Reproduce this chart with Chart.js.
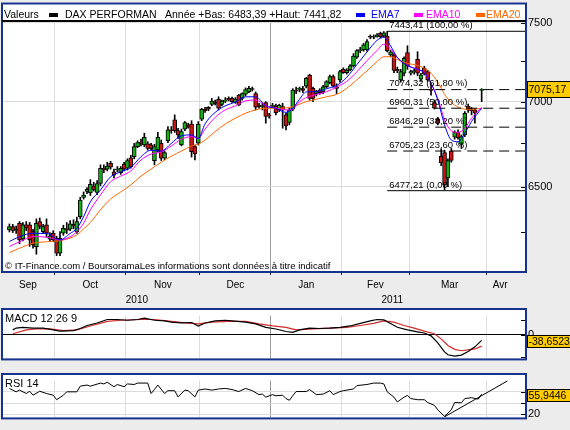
<!DOCTYPE html>
<html>
<head>
<meta charset="utf-8">
<script src="https://cdn.jsdelivr.net/npm/chart.js@4.4.1/dist/chart.umd.min.js"></script>
<style>
  html, body { margin: 0; padding: 0; background: #ececec; width: 570px; height: 430px; overflow: hidden; }
  canvas { position: absolute; left: 0; }
  #main { top: 0; }
  #macd { top: 306px; }
  #rsi { top: 371px; }
</style>
</head>
<body>
<canvas id="main" width="570" height="310"></canvas>
<canvas id="macd" width="570" height="62"></canvas>
<canvas id="rsi" width="570" height="56"></canvas>
<script>
// DAX daily candles, trading day 0 = 13 Sep 2010 ... 140 = 30 Mar 2011 (139 missing)
const opens = [
  6260,6278,6256,6296,6210,6287,6287,6250,6169,6305,
  6250,6287,6209,6241,6214,6133,6241,6265,6264,6290,
  6250,6332,6440,6473,6464,6504,6467,6518,6605,6600,
  6634,6585,6595,6580,6630,6605,6665,6672,6731,6755,
  6741,6747,6741,6649,6711,6751,6663,6766,6830,6890,
  6826,6741,6834,6860,6864,6731,6751,6894,6954,6966,
  6984,7000,7014,6984,7004,7020,7020,6996,7040,7020,
  7046,7062,7080,7050,6980,6970,6994,6915,6972,6974,
  6950,6970,6920,6874,6954,7072,7076,7080,7096,7165,
  7082,7047,7072,7062,7092,7117,7155,7092,7134,7201,
  7180,7197,7222,7277,7319,7323,7323,7409,7405,7412,
  7430,7413,7413,7292,7292,7200,7134,7176,7306,7176,
  7186,7264,7139,7208,7186,7072,6994,6894,6675,6696,
  6550,6706,6787,6817,6745,6800,6973,6950,6950,null,7070
];
const highs = [
  6292,6290,6280,6305,6300,6305,6300,6262,6320,6325,
  6290,6320,6245,6255,6225,6250,6285,6300,6310,6315,
  6330,6440,6470,6495,6540,6525,6535,6625,6625,6640,
  6645,6600,6615,6615,6640,6660,6680,6750,6765,6775,
  6810,6760,6750,6745,6815,6770,6705,6850,6850,6920,
  6840,6835,6880,6870,6885,6740,6880,6960,6965,6970,
  7020,7010,7030,7010,7025,7030,7028,7025,7045,7055,
  7085,7095,7090,7060,6990,6990,7000,6930,6990,6985,
  6985,6990,6930,6960,7080,7090,7090,7095,7150,7170,
  7090,7070,7080,7100,7130,7165,7165,7110,7195,7210,
  7205,7230,7300,7325,7340,7365,7390,7420,7420,7428,
  7438,7442,7443,7320,7300,7215,7200,7280,7350,7195,
  7200,7312,7175,7220,7195,7110,7010,6905,6718,6710,
  6660,6720,6825,6830,6800,6940,6985,6965,6955,null,7080
];
const lows = [
  6248,6245,6240,6185,6200,6255,6170,6160,6128,6265,
  6240,6220,6200,6195,6120,6120,6230,6240,6255,6265,
  6240,6320,6430,6460,6450,6475,6455,6505,6580,6590,
  6600,6550,6585,6570,6590,6595,6605,6660,6725,6735,
  6730,6710,6710,6625,6700,6650,6655,6755,6810,6815,
  6780,6735,6825,6840,6670,6653,6740,6885,6935,6945,
  6975,6980,6950,6975,6995,7005,6995,6990,6975,7010,
  7035,7055,7065,6950,6960,6950,6870,6900,6965,6920,
  6940,6840,6830,6860,6945,7050,7060,7055,7085,7010,
  7000,7035,7045,7050,7085,7110,7090,7050,7120,7175,
  7170,7190,7215,7270,7305,7315,7315,7395,7395,7405,
  7400,7405,7310,7280,7180,7180,7120,7160,7200,7165,
  7170,7160,7125,7165,7125,7040,6955,6860,6620,6483,
  6500,6640,6775,6775,6720,6790,6935,6920,6870,null,7000
];
const closes = [
  6278,6256,6262,6205,6287,6270,6205,6178,6296,6278,
  6278,6241,6227,6205,6133,6214,6268,6258,6292,6280,
  6305,6424,6453,6485,6513,6485,6518,6605,6595,6618,
  6611,6566,6600,6605,6600,6650,6615,6731,6755,6750,
  6786,6721,6721,6731,6786,6663,6696,6830,6825,6826,
  6800,6820,6874,6846,6702,6688,6864,6954,6945,6954,
  7004,6990,6960,7004,7010,7012,7000,7016,6980,7050,
  7075,7082,7075,6966,6970,6975,6910,6914,6976,6934,
  6980,6950,6854,6950,7072,7065,7080,7070,7144,7020,
  7020,7062,7055,7092,7124,7155,7096,7082,7186,7180,
  7195,7222,7285,7319,7325,7356,7377,7405,7410,7420,
  7409,7434,7319,7312,7193,7190,7186,7270,7222,7186,
  7190,7176,7166,7172,7134,7070,6960,6870,6638,6510,
  6650,6650,6817,6782,6790,6930,6950,6945,6930,null,7075.17
];

// moving averages
const emaDays = [0,3,7,11,15,18,20,22,24,27,30,33,36,39,42,45,48,51,54,56,58,61,64,67,70,73,76,79,82,84,86,88,91,94,97,100,103,106,109,111,113,115,118,121,123,125,127,129,131,133,135,137,140];
const ema7 = [6196,6223,6241,6240,6205,6240,6268,6332,6415,6481,6556,6585,6610,6672,6710,6705,6750,6795,6800,6780,6866,6935,6975,6998,7030,7030,6975,6960,6935,6960,7015,7060,7062,7080,7100,7150,7230,7310,7385,7405,7350,7275,7225,7200,7180,7115,7010,6860,6770,6760,6810,6880,6960];
const ema10 = [6169,6195,6223,6220,6205,6222,6250,6296,6370,6453,6528,6560,6590,6653,6688,6700,6735,6775,6790,6780,6835,6905,6950,6975,7005,7010,6975,6962,6950,6955,7000,7025,7045,7061,7090,7125,7185,7255,7320,7360,7330,7275,7225,7200,7180,7110,7020,6890,6825,6815,6840,6900,6966];
const ema20 = [6137,6160,6187,6195,6201,6215,6232,6265,6300,6370,6430,6470,6510,6560,6600,6640,6675,6705,6735,6745,6770,6820,6865,6900,6930,6950,6960,6960,6962,6970,6985,7000,7015,7030,7045,7082,7135,7190,7250,7280,7280,7262,7238,7225,7207,7176,7120,7045,6995,6968,6955,6954,6960];

// Fibonacci retracement from the 18 Feb high
const fibLevels = [7443.41, 7074.32, 6960.31, 6846.29, 6705.23, 6477.21];
const fibPcts = ['100,00', '61,80', '50,00', '38,20', '23,60', '0,00'];
const fibStartDay = 112;
const yearLow = 6483.39;
const yearHigh = 7441.82;
const lastPrice = 7075.17;

// MACD 12 26 9
const macdDays = [1,2,4,7,10,13,15,19,21,23,26,29,32,35,38,40,43,46,48,51,54,56,58,61,64,66,70,73,76,79,82,84,86,89,92,95,98,101,104,107,109,111,113,115,118,121,123,125,127,129,130,132,134,136,138,140];
const macdVals = [31,43,48,43,43,31,23,26,40,60,77,100,100,95,100,109,95,91,83,77,80,57,77,91,95,91,83,71,48,37,20,14,31,43,40,43,48,57,74,91,100,97,74,48,31,18,10,-9,-56,-116,-135,-144,-137,-113,-82,-38.65];
const signalDays = [1,5,8,12,16,20,24,29,33,39,43,48,52,56,60,65,70,74,78,82,85,90,95,100,104,108,111,114,117,120,123,126,128,130,132,134,136,138,140];
const signalVals = [5,31,37,37,26,31,57,88,95,100,100,88,77,71,83,88,88,71,57,48,31,37,43,48,60,74,91,83,60,43,23,5,-29,-73,-99,-108,-102,-96,-77];
const lastMacd = -38.6523;
const macdTicks = [-150, 0, 100];

// RSI 14
const rsiDays = [0,2,3,5,6,7,9,11,13,14,16,17,20,21,23,24,27,28,29,31,32,34,35,37,38,41,42,43,44,46,47,49,50,52,53,55,56,58,60,62,64,66,68,70,72,74,75,76,78,79,81,82,83,84,85,88,89,91,93,95,96,98,99,102,103,106,108,110,111,112,114,115,117,118,119,121,123,124,126,127,129,131,132,134,135,137,139,140];
const rsiVals = [66,60,63,57,61,54,61,57,54,46,54,60,60,70,72,70,75.5,74,77,69,73,69,74,73,75.5,75.5,57,64,72,57,62,62,51,63,62,51,63,65,63,65,66,64,60.5,66,62,55,56,50.5,55,53,54,48,45,53,60.5,60.5,64,55,56,62,55,60.5,62,65,71,73,75.5,75.5,74,60,50.5,42,50.5,53.6,48,46,46,41,36,28,16.5,28,41,40.5,48,49.6,47,55.94];
const rsiTrendDays = [129, 147.7];
const rsiTrendVals = [15.6, 79.5];
const lastRsi = 55.9446;
const rsiTicks = [20, 30, 40, 50, 60, 70];

// axes
const priceTicks = [6250, 6500, 6750, 7000, 7250, 7500];
const priceLabels = [6500, 7000, 7500];
const monthStarts = [13.5, 34.5, 56.5, 77.5, 98.5, 118.5, 141.5];
const monthMids = [5.5, 24, 45.5, 67, 88, 108.5, 130.5, 145.5];
const monthLabels = ['Sep', 'Oct', 'Nov', 'Dec', 'Jan', 'Fev', 'Mar', 'Avr'];
const yearMids = [37.8, 113.5];
const yearLabels = ['2010', '2011'];
const yearStart = 77.5;
const xMin = -1.9, xMax = 152.85;

const FONT = '"Liberation Sans", Arial, sans-serif';
const NAVY = '#17318f';
const GRID = '#dcdcdc';
const CLEAR = 'rgba(0,0,0,0)';
const GREEN = '#12b012';
const RED = '#cc1414';

Chart.defaults.font.family = FONT;
Chart.defaults.font.size = 11;
Chart.defaults.color = '#000';

const fmt = (v, d) => v.toFixed(d).replace('.', ',');
const pts = (xs, ys) => xs.map((x, k) => ({ x: x, y: ys[k] }));
const monthGrid = ctx => {
  const v = ctx.tick ? ctx.tick.value : null;
  if (v === yearStart) return '#9c9c9c';
  return monthStarts.includes(v) ? GRID : CLEAR;
};

// white panel, navy frame, inward tick marks and value box
function panel(cfg) {
  return {
    id: 'panel',
    beforeDraw(chart) {
      const a = chart.chartArea, c = chart.ctx;
      c.save();
      c.fillStyle = '#fff';
      c.fillRect(a.left - 1, cfg.top, a.right - a.left + 2, a.bottom - cfg.top + 1);
      c.restore();
    },
    beforeDatasetsDraw(chart) {
      if (!cfg.title) return;
      const c = chart.ctx;
      c.save();
      c.font = '11px ' + FONT;
      c.fillStyle = '#000';
      c.textBaseline = 'middle';
      c.fillText(cfg.title, chart.chartArea.left + 2, cfg.titleY);
      c.restore();
    },
    afterDraw(chart) {
      const a = chart.chartArea, c = chart.ctx, ys = chart.scales.y;
      c.save();
      c.strokeStyle = '#000';
      c.lineWidth = 1;
      ys.ticks.forEach(t => {
        const py = Math.round(ys.getPixelForValue(t.value)) + 0.5;
        c.beginPath(); c.moveTo(a.right - 4, py); c.lineTo(a.right, py); c.stroke();
      });
      c.strokeStyle = NAVY;
      c.lineWidth = 2;
      c.strokeRect(a.left - 1, cfg.top + 1, a.right - a.left + 2, a.bottom - cfg.top);
      if (cfg.box) {
        const h = cfg.box.h;
        const top = Math.round(ys.getPixelForValue(cfg.box.value) + (cfg.box.shift || 0) - h / 2);
        c.fillStyle = '#ffcc00';
        c.fillRect(a.right + 2, top, 44, h);
        c.strokeStyle = '#000';
        c.lineWidth = 1;
        c.strokeRect(a.right + 2.5, top + 0.5, 44, h - 1);
        c.fillStyle = '#000';
        c.font = '10.5px ' + FONT;
        c.textBaseline = 'middle';
        c.fillText(cfg.box.text, a.right + 3.5, top + h / 2 + 0.5);
      }
      c.restore();
    }
  };
}

// header line, fibonacci labels, source note
const headerKeys = [[0, 49, 65, '#000'], [2, 356, 371, '#0000ff'], [3, 414, 426, '#ff00ff'], [4, 476, 486, '#ff6600']];
const mainDecor = {
  id: 'mainDecor',
  afterDraw(chart) {
    const c = chart.ctx, a = chart.chartArea, xs = chart.scales.x, ys = chart.scales.y;
    c.save();
    c.fillStyle = '#000';
    c.fillRect(a.left - 1, 20, a.right - a.left + 2, 2);
    c.font = '10.5px ' + FONT;
    c.textBaseline = 'middle';
    c.fillText('Valeurs', 4, 15);
    c.fillText('Année +Bas: ' + fmt(yearLow, 2) + ' +Haut: ' + fmt(yearHigh, 2), 165, 15);
    headerKeys.forEach(([di, rx, tx, col]) => {
      c.fillStyle = col;
      c.fillRect(rx, 13, 9, 4);
      c.fillText(chart.data.datasets[di].label, tx, 15);
    });
    c.fillStyle = '#000';
    c.font = '9.5px ' + FONT;
    c.textBaseline = 'bottom';
    const fx = xs.getPixelForValue(fibStartDay) + 2;
    fibLevels.forEach((lv, k) => {
      c.fillText(fmt(lv, 2) + ' (' + fibPcts[k] + ' %)', fx, ys.getPixelForValue(lv) - 1);
    });
    c.font = '9.5px ' + FONT;
    c.textBaseline = 'middle';
    c.fillText('© IT-Finance.com / BoursoramaLes informations sont données à titre indicatif', a.left + 2, a.bottom - 4.5);
    c.restore();
  }
};

// candles
const bodyData = [], wickData = [], bodyColors = [];
closes.forEach((cl, i) => {
  if (cl === null) return;
  bodyData.push({ x: i, y: [opens[i], cl] });
  wickData.push({ x: i, y: [lows[i], highs[i]] });
  bodyColors.push(cl >= opens[i] ? GREEN : RED);
});

const fibSets = fibLevels.map((lv, k) => ({
  type: 'line',
  label: 'fib ' + fibPcts[k],
  data: [{ x: fibStartDay, y: lv }, { x: xMax, y: lv }],
  borderColor: '#000',
  borderWidth: 1,
  borderDash: (k === 0 || k === fibLevels.length - 1) ? [] : [10, 6],
  pointRadius: 0,
  order: 0
}));

const emaLine = (label, ys, color) => ({
  type: 'line', label: label, data: pts(emaDays, ys),
  borderColor: color, borderWidth: 1, pointRadius: 0,
  cubicInterpolationMode: 'monotone', order: 1
});

new Chart(document.getElementById('main'), {
  type: 'bar',
  data: {
    datasets: [
      { type: 'bar', label: 'DAX PERFORMAN', data: bodyData, backgroundColor: bodyColors,
        borderColor: '#000', borderWidth: 1, borderSkipped: false, barThickness: 4,
        minBarLength: 1, grouped: false, order: 2 },
      { type: 'bar', label: 'mèches', data: wickData, backgroundColor: '#000',
        barThickness: 1, grouped: false, order: 3 },
      emaLine('EMA7', ema7, '#0000ff'),
      emaLine('EMA10', ema10, '#ff00ff'),
      emaLine('EMA20', ema20, '#ff6600'),
      ...fibSets
    ]
  },
  options: {
    responsive: false,
    devicePixelRatio: 1,
    animation: false,
    layout: { padding: { left: 3, top: 22, right: 0, bottom: 0 }, autoPadding: false },
    plugins: { legend: { display: false }, tooltip: { enabled: false } },
    scales: {
      x: {
        type: 'linear', position: 'bottom', min: xMin, max: xMax, bounds: 'data', offset: false, weight: 0,
        afterBuildTicks: s => {
          s.ticks = monthStarts.concat(monthMids).sort((p, q) => p - q).map(v => ({ value: v }));
        },
        ticks: {
          autoSkip: false, maxRotation: 0, padding: 4, font: { size: 10 },
          callback: v => { const k = monthMids.indexOf(v); return k >= 0 ? monthLabels[k] : ''; }
        },
        grid: {
          offset: false, color: monthGrid, tickLength: 4,
          tickColor: ctx => monthStarts.includes(ctx.tick.value) ? '#222' : CLEAR
        },
        border: { display: false },
        afterFit: s => { s.height = 20; }
      },
      x2: {
        type: 'linear', axis: 'x', position: 'bottom', min: xMin, max: xMax, bounds: 'data', offset: false, weight: 1,
        afterBuildTicks: s => { s.ticks = yearMids.map(v => ({ value: v })); },
        ticks: {
          autoSkip: false, maxRotation: 0, padding: 3, font: { size: 10 },
          callback: v => yearLabels[yearMids.indexOf(v)]
        },
        grid: { display: false, drawTicks: false },
        border: { display: false },
        afterFit: s => { s.height = 19; }
      },
      y: {
        type: 'logarithmic', position: 'right', min: 6039, max: 7504, bounds: 'data',
        afterBuildTicks: s => { s.ticks = priceTicks.map(v => ({ value: v })); },
        ticks: { padding: 3, font: { size: 11 }, callback: v => priceLabels.includes(v) ? String(v) : '' },
        grid: { color: ctx => priceLabels.includes(ctx.tick.value) ? GRID : CLEAR, drawTicks: false },
        border: { display: false },
        afterFit: s => { s.width = 45; }
      }
    }
  },
  plugins: [panel({ top: 2.5, box: { value: lastPrice, text: fmt(lastPrice, 2), h: 17 } }), mainDecor]
});

const lowerX = {
  type: 'linear', min: xMin, max: xMax, bounds: 'data', offset: false,
  afterBuildTicks: s => { s.ticks = monthStarts.map(v => ({ value: v })); },
  ticks: { display: false },
  grid: { offset: false, color: monthGrid, drawTicks: false },
  border: { display: false },
  afterFit: s => { s.height = 0; }
};

new Chart(document.getElementById('macd'), {
  type: 'line',
  data: {
    datasets: [
      { label: 'MACD', data: pts(macdDays, macdVals), borderColor: '#000', borderWidth: 1.2, pointRadius: 0 },
      { label: 'Signal', data: pts(signalDays, signalVals), borderColor: '#d42a2a', borderWidth: 1.2, pointRadius: 0 }
    ]
  },
  options: {
    responsive: false,
    devicePixelRatio: 1,
    animation: false,
    layout: { padding: { left: 3, top: 4, right: 0, bottom: 3 }, autoPadding: false },
    plugins: { legend: { display: false }, tooltip: { enabled: false } },
    scales: {
      x: lowerX,
      y: {
        type: 'linear', position: 'right', min: -159, max: 126, bounds: 'data',
        afterBuildTicks: s => { s.ticks = macdTicks.map(v => ({ value: v })); },
        ticks: { padding: 3, font: { size: 11 }, callback: v => v === 0 ? '0' : '' },
        grid: { color: ctx => ctx.tick.value === 0 ? '#000' : CLEAR, drawTicks: false },
        border: { display: false },
        afterFit: s => { s.width = 45; }
      }
    }
  },
  plugins: [panel({ top: 2, title: 'MACD 12 26 9', titleY: 12.5, box: { value: lastMacd, text: fmt(lastMacd, 4), h: 13, shift: 1.5 } })]
});

new Chart(document.getElementById('rsi'), {
  type: 'line',
  data: {
    datasets: [
      { label: 'RSI 14', data: pts(rsiDays, rsiVals), borderColor: '#000', borderWidth: 1, pointRadius: 0 },
      { label: 'tendance', data: pts(rsiTrendDays, rsiTrendVals), borderColor: '#000', borderWidth: 1, pointRadius: 0 }
    ]
  },
  options: {
    responsive: false,
    devicePixelRatio: 1,
    animation: false,
    layout: { padding: { left: 3, top: 4, right: 0, bottom: 4 }, autoPadding: false },
    plugins: { legend: { display: false }, tooltip: { enabled: false } },
    scales: {
      x: lowerX,
      y: {
        type: 'linear', position: 'right', min: 14.6, max: 79.9, bounds: 'data',
        afterBuildTicks: s => { s.ticks = rsiTicks.map(v => ({ value: v })); },
        ticks: { padding: 3, font: { size: 11 }, callback: v => v === 20 ? '20' : '' },
        grid: {
          color: ctx => (ctx.tick.value === 70 || ctx.tick.value === 30) ? '#000' : (ctx.tick.value === 50 ? CLEAR : GRID),
          lineWidth: ctx => (ctx.tick.value === 70 || ctx.tick.value === 30) ? 1.5 : 1,
          drawTicks: false
        },
        border: { display: false },
        afterFit: s => { s.width = 45; }
      }
    }
  },
  plugins: [panel({ top: 2, title: 'RSI 14', titleY: 12.5, box: { value: lastRsi, text: fmt(lastRsi, 4), h: 13, shift: 1 } })]
});
</script>
</body>
</html>
